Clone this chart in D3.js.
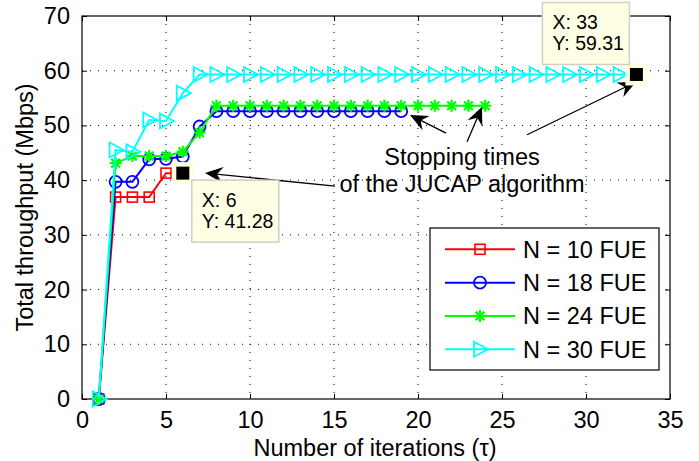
<!DOCTYPE html>
<html>
<head>
<meta charset="utf-8">
<script src="https://cdn.jsdelivr.net/npm/d3@7"></script>
<style>
  html, body { margin: 0; padding: 0; background: #fff; }
  svg { display: block; }
  text { font-family: Arial, "Liberation Sans", Helvetica, sans-serif; fill: #000; }
</style>
</head>
<body>
<svg id="chart" width="699" height="461"></svg>
<script>
// ---------- data ----------
const xTicks = [0, 5, 10, 15, 20, 25, 30, 35];
const yTicks = [0, 10, 20, 30, 40, 50, 60, 70];
const seriesNames = ["N = 10 FUE", "N = 18 FUE", "N = 24 FUE", "N = 30 FUE"];
const seriesColors = ["#ff0000", "#0000ff", "#00ff00", "#00ffff"];
const seriesMarkers = ["square", "circle", "asterisk", "triangle"];
// throughput values for iterations 1, 2, 3, ...
const n10 = [0, 36.9, 36.9, 36.9, 41.28, 41.28];
const n18 = [0, 39.7, 39.7, 43.8, 43.9, 44.3, 49.8, 52.6, 52.6, 52.6, 52.6, 52.6, 52.6, 52.6, 52.6, 52.6, 52.6, 52.6, 52.6];
const n24 = [0, 43.1, 44.4, 44.4, 44.4, 45.2, 48.7, 53.6, 53.6, 53.6, 53.6, 53.6, 53.6, 53.6, 53.6, 53.6, 53.6, 53.6, 53.6, 53.6, 53.6, 53.6, 53.6, 53.6];
const n30 = [0, 45.5, 45.2, 51.0, 50.8, 55.9, 59.31, 59.31, 59.31, 59.31, 59.31, 59.31, 59.31, 59.31, 59.31, 59.31, 59.31, 59.31, 59.31, 59.31, 59.31, 59.31, 59.31, 59.31, 59.31, 59.31, 59.31, 59.31, 59.31, 59.31, 59.31, 59.31, 59.31];
const allSeries = [n10, n18, n24, n30];
// data tips [x, y]
const dataTips = [[6, 41.28], [33, 59.31]];
// annotation text (data units: x center, y baseline)
const noteLines = ["Stopping times", "of the JUCAP algorithm"];
const noteAnchors = [[22.62, 42.8], [22.62, 37.9]];
// arrows [fromX, fromY, toX, toY] in data units
const arrows = [
  [21.67, 48.6, 19.52, 51.9],
  [22.92, 47.0, 23.81, 53.4],
  [15.06, 38.9, 7.32, 41.3],
  [26.49, 48.3, 32.98, 57.95]
];

// ---------- layout ----------
const svg = d3.select("#chart");
const L = 82, R = 670, T = 16, B = 399;
const x = d3.scaleLinear().domain([0, 35]).range([L, R]);
const y = d3.scaleLinear().domain([0, 70]).range([B, T]);
const FS = 23.5;

// grid
const grid = svg.append("g");
grid.selectAll(".gx").data(xTicks.slice(1, -1)).join("line")
  .attr("x1", d => x(d)).attr("x2", d => x(d)).attr("y1", T).attr("y2", B)
  .attr("stroke", "#000").attr("stroke-width", 1).attr("stroke-dasharray", "1,7");
grid.selectAll(".gy").data(yTicks.slice(1, -1)).join("line")
  .attr("x1", L).attr("x2", R).attr("y1", d => y(d)).attr("y2", d => y(d))
  .attr("stroke", "#000").attr("stroke-width", 1).attr("stroke-dasharray", "1,7");

// axes using d3 axes (inward ticks)
const axB = svg.append("g").attr("transform", `translate(0,${B})`)
  .call(d3.axisBottom(x).tickValues(xTicks).tickSizeInner(-5).tickSizeOuter(0).tickPadding(12));
const axT = svg.append("g").attr("transform", `translate(0,${T})`)
  .call(d3.axisTop(x).tickValues(xTicks).tickSizeInner(-5).tickSizeOuter(0).tickFormat(""));
const axL = svg.append("g").attr("transform", `translate(${L},0)`)
  .call(d3.axisLeft(y).tickValues(yTicks).tickSizeInner(-5).tickSizeOuter(0).tickPadding(12));
const axR = svg.append("g").attr("transform", `translate(${R},0)`)
  .call(d3.axisRight(y).tickValues(yTicks).tickSizeInner(-5).tickSizeOuter(0).tickFormat(""));
[axB, axT, axL, axR].forEach(a => {
  a.select(".domain").remove();
  a.selectAll(".tick line").attr("stroke", "#000");
  a.selectAll("text").attr("font-size", FS).attr("font-family", "Arial, 'Liberation Sans', sans-serif").attr("fill", "#000");
});
axB.selectAll("text").attr("dy", "0.71em");

// frame
svg.append("rect").attr("x", L).attr("y", T).attr("width", R - L).attr("height", B - T)
  .attr("fill", "none").attr("stroke", "#000").attr("stroke-width", 1.2);

// axis labels
svg.append("text").attr("x", (L + R) / 2 - 1).attr("y", 456).attr("text-anchor", "middle")
  .attr("font-size", FS).text("Number of iterations (τ)");
svg.append("text").attr("transform", `translate(33,${(T + B) / 2}) rotate(-90)`).attr("text-anchor", "middle")
  .attr("font-size", FS).text("Total throughput (Mbps)");

// marker drawing
function drawMarker(g, type, color, cx, cy) {
  if (type === "square") {
    g.append("rect").attr("x", cx - 5).attr("y", cy - 5).attr("width", 10).attr("height", 10)
      .attr("fill", "none").attr("stroke", color).attr("stroke-width", 1.6);
  } else if (type === "circle") {
    g.append("circle").attr("cx", cx).attr("cy", cy).attr("r", 6)
      .attr("fill", "none").attr("stroke", color).attr("stroke-width", 1.8);
  } else if (type === "asterisk") {
    const r = 6, d = r * 0.72;
    const p = `M${cx - r},${cy}L${cx + r},${cy}M${cx},${cy - r}L${cx},${cy + r}` +
      `M${cx - d},${cy - d}L${cx + d},${cy + d}M${cx - d},${cy + d}L${cx + d},${cy - d}`;
    g.append("path").attr("d", p).attr("stroke", color).attr("stroke-width", 2.2).attr("fill", "none");
  } else if (type === "triangle") {
    const p = `M${cx + 8},${cy}L${cx - 6},${cy - 7.5}L${cx - 6},${cy + 7.5}Z`;
    g.append("path").attr("d", p).attr("stroke", color).attr("stroke-width", 1.8).attr("fill", "none");
  }
}

// series
const line = d3.line().x((d, i) => x(i + 1)).y(d => y(d));
allSeries.forEach((vals, si) => {
  const g = svg.append("g");
  g.append("path").datum(vals).attr("d", line).attr("fill", "none")
    .attr("stroke", seriesColors[si]).attr("stroke-width", 2);
  vals.forEach((v, i) => drawMarker(g, seriesMarkers[si], seriesColors[si], x(i + 1), y(v)));
});

// arrows
function arrowHead(x1, y1, x2, y2) {
  const ang = Math.atan2(y2 - y1, x2 - x1);
  const len = 18, hw = 8, notch = 12;
  const ux = Math.cos(ang), uy = Math.sin(ang), px = -uy, py = ux;
  const bx = x2 - ux * len, by = y2 - uy * len;
  const nx = x2 - ux * notch, ny = y2 - uy * notch;
  return `M${x2},${y2}L${bx + px * hw},${by + py * hw}L${nx},${ny}L${bx - px * hw},${by - py * hw}Z`;
}
arrows.forEach(a => {
  const x1 = x(a[0]), y1 = y(a[1]), x2 = x(a[2]), y2 = y(a[3]);
  const ang = Math.atan2(y2 - y1, x2 - x1);
  svg.append("line").attr("x1", x1).attr("y1", y1)
    .attr("x2", x2 - Math.cos(ang) * 11).attr("y2", y2 - Math.sin(ang) * 11)
    .attr("stroke", "#000").attr("stroke-width", 1.3);
  svg.append("path").attr("d", arrowHead(x1, y1, x2, y2)).attr("fill", "#000");
});

// annotation text
noteLines.forEach((t, i) => {
  svg.append("text").attr("x", x(noteAnchors[i][0])).attr("y", y(noteAnchors[i][1]))
    .attr("text-anchor", "middle").attr("font-size", FS).text(t);
});

// data tips
const tipBoxes = [[9, 7], [-94, -72]];
dataTips.forEach((d, i) => {
  const cx = x(d[0]), cy = y(d[1]);
  svg.append("rect").attr("x", cx - 11).attr("y", cy - 11).attr("width", 22).attr("height", 22)
    .attr("fill", "#ffffe0");
  svg.append("rect").attr("x", cx - 6.5).attr("y", cy - 6.5).attr("width", 13).attr("height", 13)
    .attr("fill", "#000");
  const bx = cx + tipBoxes[i][0], by = cy + tipBoxes[i][1];
  svg.append("rect").attr("x", bx).attr("y", by).attr("width", 87).attr("height", 62)
    .attr("fill", "#ffffe6").attr("stroke", "#cfcfc4").attr("stroke-width", 1.5);
  svg.append("text").attr("x", bx + 10).attr("y", by + 27).attr("font-size", 19.5).text("X: " + d[0]);
  svg.append("text").attr("x", bx + 10).attr("y", by + 48).attr("font-size", 19.5).text("Y: " + d[1]);
});

// legend
const lg = svg.append("g");
lg.append("rect").attr("x", 430).attr("y", 228).attr("width", 229).attr("height", 142)
  .attr("fill", "#fff").attr("stroke", "#000").attr("stroke-width", 1.2);
const legendY = d3.scalePoint().domain(seriesNames).range([249.3, 349.3]);
seriesNames.forEach((name, i) => {
  const ly = legendY(name);
  lg.append("line").attr("x1", 445).attr("x2", 515).attr("y1", ly).attr("y2", ly)
    .attr("stroke", seriesColors[i]).attr("stroke-width", 2);
  drawMarker(lg, seriesMarkers[i], seriesColors[i], 480, ly);
  lg.append("text").attr("x", 523).attr("y", ly).attr("dy", "0.36em").attr("font-size", 23.5).text(name);
});
</script>
</body>
</html>
